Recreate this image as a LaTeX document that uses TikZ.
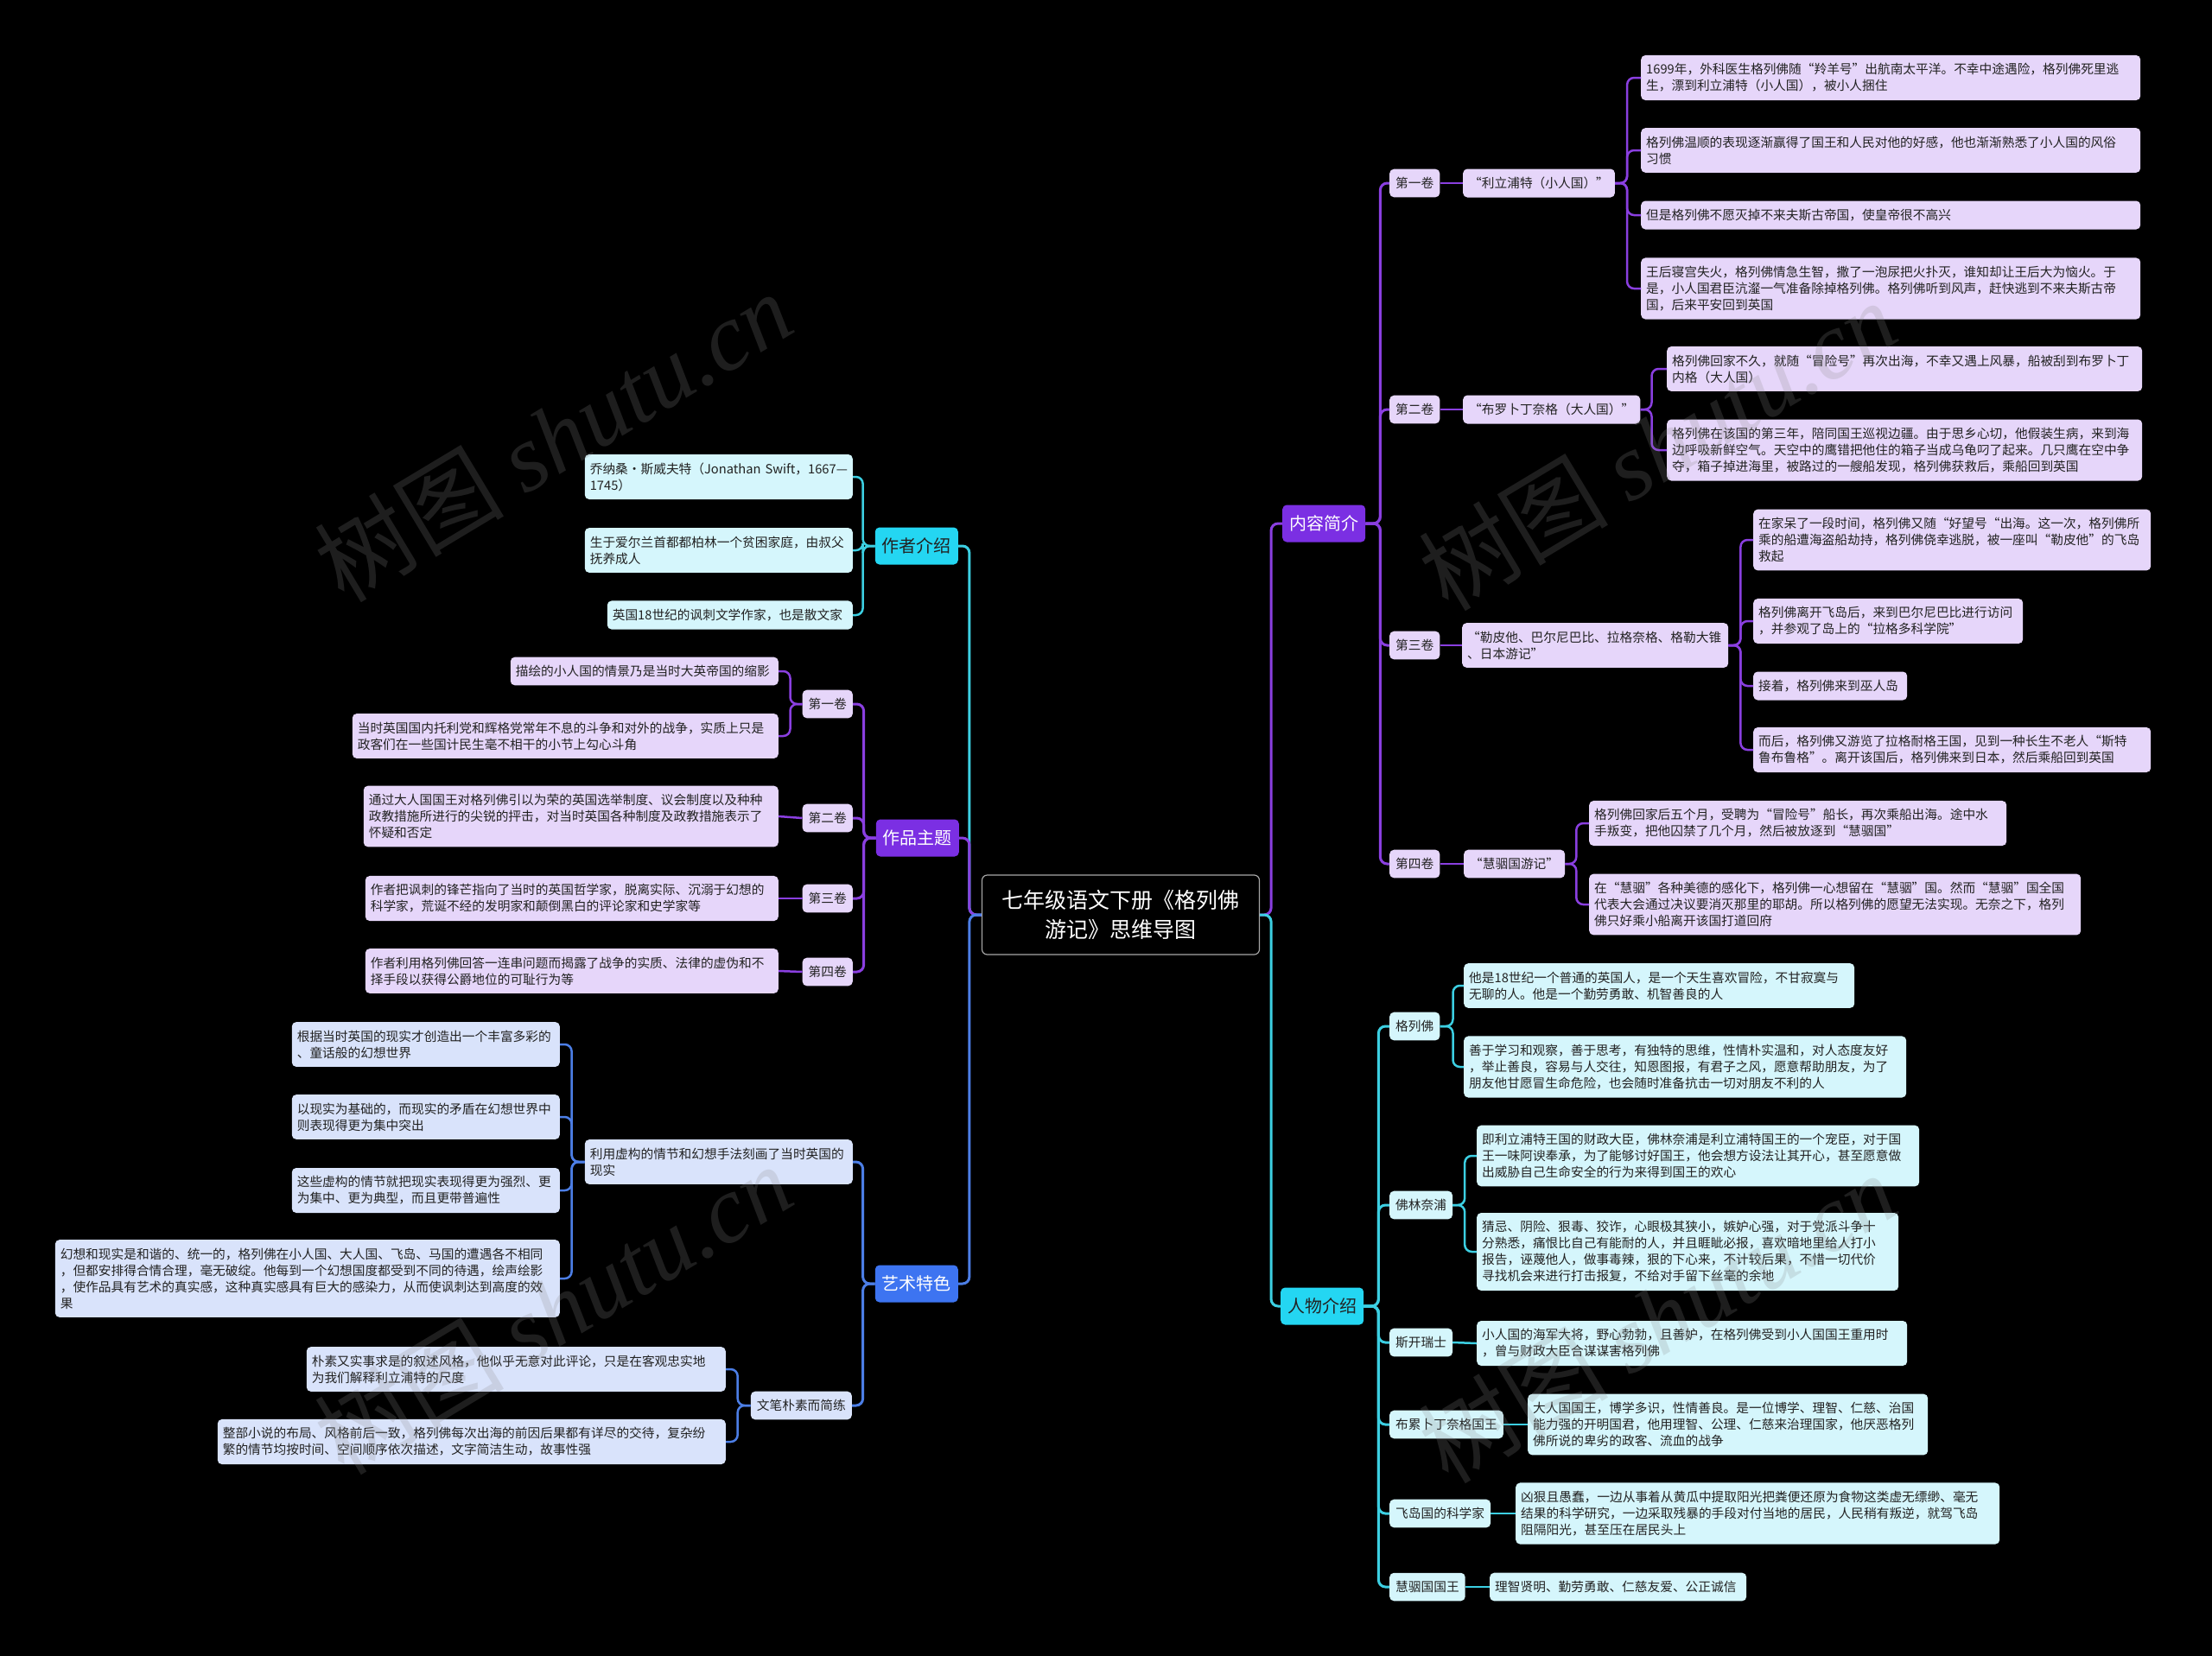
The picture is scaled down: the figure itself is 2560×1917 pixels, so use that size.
\documentclass[tikz,border=0pt]{standalone}
\usepackage{fontspec}
\setmainfont{Noto Sans CJK SC}
\newfontfamily\wmfont{Liberation Serif}
\definecolor{cpur}{HTML}{7B2FE3}
\definecolor{lpur}{HTML}{8A3FE0}
\definecolor{fpur}{HTML}{E6D6FA}
\definecolor{ccyn}{HTML}{24D6F2}
\definecolor{lcyn}{HTML}{3CCFE2}
\definecolor{fcyn}{HTML}{D5F6FC}
\definecolor{cblu}{HTML}{3D74F1}
\definecolor{lblu}{HTML}{4C7EE6}
\definecolor{fblu}{HTML}{D9E3FB}
\definecolor{txt}{HTML}{222222}
\begin{document}
\begin{tikzpicture}[x=1pt, y=-1pt,
    root/.style={draw=gray!70, line width=1.2pt, fill=black, text=white, rounded corners=6pt,
        align=center, minimum width=321pt, minimum height=92pt, font=\fontsize{25}{34}\selectfont},
    branch/.style={rounded corners=5pt, minimum height=43pt, inner xsep=8pt, font=\fontsize{20}{24}\selectfont},
    volbox/.style={rounded corners=5pt, inner xsep=7pt, inner ysep=9.5pt, text=txt, font=\fontsize{14.7}{19}\selectfont},
    leafbox/.style={volbox, inner xsep=6pt, align=left, text width=#1},
    pvol/.style={volbox, fill=fpur}, cvol/.style={volbox, fill=fcyn}, bvol/.style={volbox, fill=fblu},
    pleaf/.style={leafbox=#1, fill=fpur}, cleaf/.style={leafbox=#1, fill=fcyn}, bleaf/.style={leafbox=#1, fill=fblu},
    pline/.style={draw=lpur, line width=3pt, rounded corners=8pt},
    cline/.style={draw=lcyn, line width=3pt, rounded corners=8pt},
    bline/.style={draw=lblu, line width=3pt, rounded corners=8pt},
    wmark/.style={rotate=31, text=white!55!black, opacity=0.22, font=\fontsize{110}{110}\selectfont}]
    % Background
    \fill[black] (0,0) rectangle (2560,1917);
    % Root
    \node[root] (root) at (1297,1059) {七年级语文下册《格列佛\\游记》思维导图};

    % Content summary
    \node[branch, fill=cpur, text=white, anchor=west] (nr) at (1484,606) {内容简介};
    \node[pvol, anchor=west] (v1) at (1608,212) {第一卷};
    \node[pvol, anchor=west] (v2) at (1608,474) {第二卷};
    \node[pvol, anchor=west] (v3) at (1608,747) {第三卷};
    \node[pvol, anchor=west] (v4) at (1608,1000) {第四卷};
    \node[pvol, anchor=west] (t1) at (1693,212) {“利立浦特（小人国）”};
    \node[pvol, anchor=west] (t2) at (1693,474) {“布罗卜丁奈格（大人国）”};
    \node[pleaf=296pt, anchor=west] (t3) at (1692,747) {“勒皮他、巴尔尼巴比、拉格奈格、格勒大锥\\、日本游记”};
    \node[pvol, anchor=west] (t4) at (1694,1000) {“慧骃国游记”};
    \node[pleaf=566pt, anchor=west] (t1a) at (1899,90) {1699年，外科医生格列佛随“羚羊号”出航南太平洋。不幸中途遇险，格列佛死里逃\\生，漂到利立浦特（小人国），被小人捆住};
    \node[pleaf=566pt, anchor=west] (t1b) at (1899,174) {格列佛温顺的表现逐渐赢得了国王和人民对他的好感，他也渐渐熟悉了小人国的风俗\\习惯};
    \node[pleaf=566pt, anchor=west] (t1c) at (1899,249) {但是格列佛不愿灭掉不来夫斯古帝国，使皇帝很不高兴};
    \node[pleaf=566pt, anchor=west] (t1d) at (1899,334) {王后寝宫失火，格列佛情急生智，撒了一泡尿把火扑灭，谁知却让王后大为恼火。于\\是，小人国君臣沆瀣一气准备除掉格列佛。格列佛听到风声，赶快逃到不来夫斯古帝\\国，后来平安回到英国};
    \node[pleaf=538pt, anchor=west] (t2a) at (1929,427) {格列佛回家不久，就随“冒险号”再次出海，不幸又遇上风暴，船被刮到布罗卜丁\\内格（大人国）};
    \node[pleaf=538pt, anchor=west] (t2b) at (1929,521) {格列佛在该国的第三年，陪同国王巡视边疆。由于思乡心切，他假装生病，来到海\\边呼吸新鲜空气。天空中的鹰错把他住的箱子当成乌龟叼了起来。几只鹰在空中争\\夺，箱子掉进海里，被路过的一艘船发现，格列佛获救后，乘船回到英国};
    \node[pleaf=448pt, anchor=west] (t3a) at (2029,625) {在家呆了一段时间，格列佛又随“好望号“出海。这一次，格列佛所\\乘的船遭海盗船劫持，格列佛侥幸逃脱，被一座叫“勒皮他”的飞岛\\救起};
    \node[pleaf=300pt, anchor=west] (t3b) at (2029,719) {格列佛离开飞岛后，来到巴尔尼巴比进行访问\\，并参观了岛上的“拉格多科学院”};
    \node[pleaf=166pt, anchor=west] (t3c) at (2029,794) {接着，格列佛来到巫人岛};
    \node[pleaf=448pt, anchor=west] (t3d) at (2029,868) {而后，格列佛又游览了拉格耐格王国，见到一种长生不老人“斯特\\鲁布鲁格”。离开该国后，格列佛来到日本，然后乘船回到英国};
    \node[pleaf=471pt, anchor=west] (t4a) at (1839,953) {格列佛回家后五个月，受聘为“冒险号”船长，再次乘船出海。途中水\\手叛变，把他囚禁了几个月，然后被放逐到“慧骃国”};
    \node[pleaf=557pt, anchor=west] (t4b) at (1839,1047) {在“慧骃”各种美德的感化下，格列佛一心想留在“慧骃”国。然而“慧骃”国全国\\代表大会通过决议要消灭那里的耶胡。所以格列佛的愿望无法实现。无奈之下，格列\\佛只好乘小船离开该国打道回府};

    % Characters
    \node[branch, fill=ccyn, text=txt, anchor=west] (rw) at (1482,1512) {人物介绍};
    \node[cvol, anchor=west] (r1) at (1608,1188) {格列佛};
    \node[cvol, anchor=west] (r2) at (1608,1395) {佛林奈浦};
    \node[cvol, anchor=west] (r3) at (1608,1554) {斯开瑞士};
    \node[cvol, anchor=west] (r4) at (1608,1649) {布累卜丁奈格国王};
    \node[cvol, anchor=west] (r5) at (1608,1752) {飞岛国的科学家};
    \node[cvol, anchor=west] (r6) at (1608,1837) {慧骃国国王};
    \node[cleaf=440pt, anchor=west] (r1a) at (1694,1141) {他是18世纪一个普通的英国人，是一个天生喜欢冒险，不甘寂寞与\\无聊的人。他是一个勤劳勇敢、机智善良的人};
    \node[cleaf=500pt, anchor=west] (r1b) at (1694,1235) {善于学习和观察，善于思考，有独特的思维，性情朴实温和，对人态度友好\\，举止善良，容易与人交往，知恩图报，有君子之风，愿意帮助朋友，为了\\朋友他甘愿冒生命危险，也会随时准备抗击一切对朋友不利的人};
    \node[cleaf=500pt, anchor=west] (r2a) at (1709,1338) {即利立浦特王国的财政大臣，佛林奈浦是利立浦特国王的一个宠臣，对于国\\王一味阿谀奉承，为了能够讨好国王，他会想方设法让其开心，甚至愿意做\\出威胁自己生命安全的行为来得到国王的欢心};
    \node[cleaf=476pt, anchor=west] (r2b) at (1709,1449) {猜忌、阴险、狠毒、狡诈，心眼极其狭小，嫉妒心强，对于党派斗争十\\分熟悉，痛恨比自己有能耐的人，并且睚眦必报，喜欢暗地里给人打小\\报告，诬蔑他人，做事毒辣，狠的下心来，不计较后果，不惜一切代价\\寻找机会来进行打击报复，不给对手留下丝毫的余地};
    \node[cleaf=486pt, anchor=west] (r3a) at (1709,1555) {小人国的海军大将，野心勃勃，且善妒，在格列佛受到小人国国王重用时\\，曾与财政大臣合谋谋害格列佛};
    \node[cleaf=451pt, anchor=west] (r4a) at (1768,1649) {大人国国王，博学多识，性情善良。是一位博学、理智、仁慈、治国\\能力强的开明国君，他用理智、公理、仁慈来治理国家，他厌恶格列\\佛所说的卑劣的政客、流血的战争};
    \node[cleaf=548pt, anchor=west] (r5a) at (1754,1752) {凶狠且愚蠢，一边从事着从黄瓜中提取阳光把粪便还原为食物这类虚无缥缈、毫无\\结果的科学研究，一边采取残暴的手段对付当地的居民，人民稍有叛逆，就驾飞岛\\阻隔阳光，甚至压在居民头上};
    \node[cleaf=285pt, anchor=west] (r6a) at (1724,1837) {理智贤明、勤劳勇敢、仁慈友爱、公正诚信};

    % Author
    \node[branch, fill=ccyn, text=txt, anchor=east] (zz) at (1109,632) {作者介绍};
    \node[cleaf=298pt, anchor=east] (zza) at (987,552) {\mbox{乔纳桑·斯威夫特（Jonathan Swift，1667—}\\1745）};
    \node[cleaf=298pt, anchor=east] (zzb) at (987,637) {生于爱尔兰首都都柏林一个贫困家庭，由叔父\\抚养成人};
    \node[cleaf=272pt, anchor=east] (zzc) at (987,712) {英国18世纪的讽刺文学作家，也是散文家};

    % Themes
    \node[branch, fill=cpur, text=white, anchor=east] (zp) at (1110,970) {作品主题};
    \node[pvol, anchor=east] (w1) at (987,815) {第一卷};
    \node[pvol, anchor=east] (w2) at (987,947) {第二卷};
    \node[pvol, anchor=east] (w3) at (987,1040) {第三卷};
    \node[pvol, anchor=east] (w4) at (987,1125) {第四卷};
    \node[pleaf=298pt, anchor=east] (w1a) at (901,777) {描绘的小人国的情景乃是当时大英帝国的缩影};
    \node[pleaf=481pt, anchor=east] (w1b) at (901,852) {当时英国国内托利党和辉格党常年不息的斗争和对外的战争，实质上只是\\政客们在一些国计民生毫不相干的小节上勾心斗角};
    \node[pleaf=468pt, anchor=east] (w2a) at (901,945) {通过大人国国王对格列佛引以为荣的英国选举制度、议会制度以及种种\\政教措施所进行的尖锐的抨击，对当时英国各种制度及政教措施表示了\\怀疑和否定};
    \node[pleaf=466pt, anchor=east] (w3a) at (901,1040) {作者把讽刺的锋芒指向了当时的英国哲学家，脱离实际、沉溺于幻想的\\科学家，荒诞不经的发明家和颠倒黑白的评论家和史学家等};
    \node[pleaf=466pt, anchor=east] (w4a) at (901,1124) {作者利用格列佛回答一连串问题而揭露了战争的实质、法律的虚伪和不\\择手段以获得公爵地位的可耻行为等};

    % Art features
    \node[branch, fill=cblu, text=white, anchor=east] (ys) at (1109,1486) {艺术特色};
    \node[bleaf=298pt, anchor=east] (s1) at (987,1345) {利用虚构的情节和幻想手法刻画了当时英国的\\现实};
    \node[bvol, anchor=east] (s2) at (986,1627) {文笔朴素而简练};
    \node[bleaf=298pt, anchor=east] (s1a) at (648,1209) {根据当时英国的现实才创造出一个丰富多彩的\\、童话般的幻想世界};
    \node[bleaf=298pt, anchor=east] (s1b) at (648,1293) {以现实为基础的，而现实的矛盾在幻想世界中\\则表现得更为集中突出};
    \node[bleaf=298pt, anchor=east] (s1c) at (648,1378) {这些虚构的情节就把现实表现得更为强烈、更\\为集中、更为典型，而且更带普遍性};
    \node[bleaf=572pt, anchor=east] (s1d) at (648,1480) {幻想和现实是和谐的、统一的，格列佛在小人国、大人国、飞岛、马国的遭遇各不相同\\，但都安排得合情合理，毫无破绽。他每到一个幻想国度都受到不同的待遇，绘声绘影\\，使作品具有艺术的真实感，这种真实感具有巨大的感染力，从而使讽刺达到高度的效\\果};
    \node[bleaf=473pt, anchor=east] (s2a) at (840,1585) {朴素又实事求是的叙述风格，他似乎无意对此评论，只是在客观忠实地\\为我们解释利立浦特的尺度};
    \node[bleaf=576pt, anchor=east] (s2b) at (840,1669) {整部小说的布局、风格前后一致，格列佛每次出海的前因后果都有详尽的交待，复杂纷\\繁的情节均按时间、空间顺序依次描述，文字简洁生动，故事性强};

    % Connectors right
    \draw[pline] (root.east) -- ++(13,0) |- (nr.west);
    \draw[cline] (root.east) -- ++(13,0) |- (rw.west);
    \foreach \i in {1,...,4} {
        \draw[pline] (nr.east) -- ++(17,0) |- (v\i.west);
        \draw[pline, line width=2.5pt] (v\i.east) -- (t\i.west);
    }
    \foreach \l in {a,b,c,d} \draw[pline, line width=2.5pt] (t1.east) -- ++(14,0) |- (t1\l.west);
    \foreach \l in {a,b} \draw[pline, line width=2.5pt] (t2.east) -- ++(13,0) |- (t2\l.west);
    \foreach \l in {a,b,c,d} \draw[pline, line width=2.5pt] (t3.east) -- ++(14,0) |- (t3\l.west);
    \foreach \l in {a,b} \draw[pline, line width=2.5pt] (t4.east) -- ++(13,0) |- (t4\l.west);
    \foreach \i in {1,...,6} \draw[cline] (rw.east) -- ++(17,0) |- (r\i.west);
    \foreach \l in {a,b} \draw[cline, line width=2.5pt] (r1.east) -- ++(15,0) |- (r1\l.west);
    \foreach \l in {a,b} \draw[cline, line width=2.5pt] (r2.east) -- ++(14,0) |- (r2\l.west);
    \foreach \i in {3,...,6} \draw[cline, line width=2.5pt] (r\i.east) -- (r\i a.west);

    % Connectors left
    \draw[cline] (root.west) -- ++(-14,0) |- (zz.east);
    \draw[pline] (root.west) -- ++(-14,0) |- (zp.east);
    \draw[bline] (root.west) -- ++(-14,0) |- (ys.east);
    \foreach \l in {a,b,c} \draw[cline, line width=2.5pt] (zz.west) -- ++(-14,0) |- (zz\l.east);
    \foreach \i in {1,...,4} \draw[pline] (zp.west) -- ++(-14,0) |- (w\i.east);
    \foreach \l in {a,b} \draw[pline, line width=2.5pt] (w1.west) -- ++(-14,0) |- (w1\l.east);
    \foreach \i in {2,3,4} \draw[pline, line width=2.5pt] (w\i.west) -- (w\i a.east);
    \foreach \i in {1,2} \draw[bline] (ys.west) -- ++(-14,0) |- (s\i.east);
    \foreach \l in {a,b,c,d} \draw[bline, line width=2.5pt] (s1.west) -- ++(-15,0) |- (s1\l.east);
    \foreach \l in {a,b} \draw[bline, line width=2.5pt] (s2.west) -- ++(-15,0) |- (s2\l.east);

    % Watermarks
    \node[wmark] (wm1) at (640,505) {树图 {\wmfont\itshape shutu.cn}};
    \node[wmark] (wm2) at (1918,515) {树图 {\wmfont\itshape shutu.cn}};
    \node[wmark] (wm3) at (640,1515) {树图 {\wmfont\itshape shutu.cn}};
    \node[wmark] (wm4) at (1918,1525) {树图 {\wmfont\itshape shutu.cn}};
\end{tikzpicture}
\end{document}
